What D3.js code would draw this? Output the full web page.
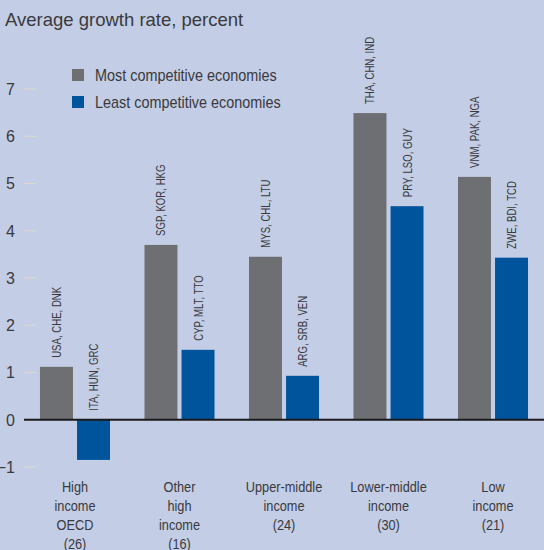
<!DOCTYPE html>
<html><head><meta charset="utf-8">
<script src="https://cdn.jsdelivr.net/npm/d3@7"></script>
<style>body{margin:0;background:#c3cde6;} svg{display:block;}</style>
</head><body>
<script>
const categories = [["High","income","OECD","(26)"],["Other","high","income","(16)"],["Upper-middle","income","(24)"],["Lower-middle","income","(30)"],["Low","income","(21)"]];
const seriesNames = ["Most competitive economies","Least competitive economies"];
const mostValues = [1.12, 3.70, 3.45, 6.49, 5.14];
const leastValues = [-0.85, 1.48, 0.93, 4.52, 3.43];
const mostLabels = ["USA, CHE, DNK","SGP, KOR, HKG","MYS, CHL, LTU","THA, CHN, IND","VNM, PAK, NGA"];
const leastLabels = ["ITA, HUN, GRC","CYP, MLT, TTO","ARG, SRB, VEN","PRY, LSO, GUY","ZWE, BDI, TCD"];
const yTicks = [-1,0,1,2,3,4,5,6,7];

const W=544,H=550;
const colors=["#6e6f72","#00549b"];
const svg=d3.select("body").append("svg").attr("width",W).attr("height",H);
svg.append("rect").attr("width",W).attr("height",H).attr("fill","#c3cde6");
const y=d3.scaleLinear().domain([-1,7]).range([467,89]);
const x0=d3.scaleBand().domain(d3.range(5)).range([24,544]).paddingInner(0.33).paddingOuter(0.153);
const x1=d3.scaleBand().domain([0,1]).range([0,x0.bandwidth()]).paddingInner(0.11);
const font="'Liberation Sans', Arial, sans-serif";
const txt="#3a3a3c";

svg.append("text").attr("x",5).attr("y",26).text("Average growth rate, percent")
  .attr("font-family",font).attr("font-size",18.5).attr("fill",txt);

// ticks
const ya=svg.append("g");
yTicks.forEach(t=>{
  if(t!==0) ya.append("line").attr("x1",24).attr("x2",36).attr("y1",y(t)).attr("y2",y(t)).attr("stroke","#ddd8c8").attr("stroke-width",1);
  ya.append("text").attr("x",t<0?15:6).attr("y",y(t)).attr("dy","0.36em").attr("text-anchor",t<0?"end":"start")
    .text(t<0?"\u2212"+Math.abs(t):t).attr("font-family",font).attr("font-size",16).attr("fill",txt);
});

const data=d3.range(5).map(i=>[{v:mostValues[i],l:mostLabels[i],s:0},{v:leastValues[i],l:leastLabels[i],s:1}]);
const g=svg.append("g");
data.forEach((d,i)=>{
  d.forEach(b=>{
    const bx=x0(i)+x1(b.s);
    g.append("rect").attr("x",bx).attr("width",x1.bandwidth())
      .attr("y",y(Math.max(0,b.v))).attr("height",Math.abs(y(b.v)-y(0))).attr("fill",colors[b.s]);
    const ty=y(Math.max(0,b.v))-9;
    g.append("text").attr("transform",`translate(${bx+x1.bandwidth()/2+4.5},${ty}) rotate(-90) scale(0.74,1)`)
      .text(b.l).attr("font-family",font).attr("font-size",13).attr("fill",txt);
  });
  const cx=x0(i)+x0.bandwidth()/2;
  const t=svg.append("text").attr("transform",`translate(${cx},0) scale(0.88,1)`).attr("text-anchor","middle").attr("font-family",font).attr("font-size",14.5).attr("fill",txt);
  categories[i].forEach((ln,j)=>t.append("tspan").attr("x",0).attr("y",492+j*19).text(ln));
});
svg.append("line").attr("x1",24).attr("x2",544).attr("y1",y(0)).attr("y2",y(0)).attr("stroke","#1a1a1a").attr("stroke-width",2);

// legend
seriesNames.forEach((n,i)=>{
  svg.append("rect").attr("x",72).attr("y",69+i*27).attr("width",12).attr("height",12).attr("fill",colors[i]);
  svg.append("text").attr("transform",`translate(95,${75+i*27}) scale(0.9,1)`).attr("dy","0.36em").text(n)
    .attr("font-family",font).attr("font-size",16).attr("fill",txt);
});
</script>
</body></html>
